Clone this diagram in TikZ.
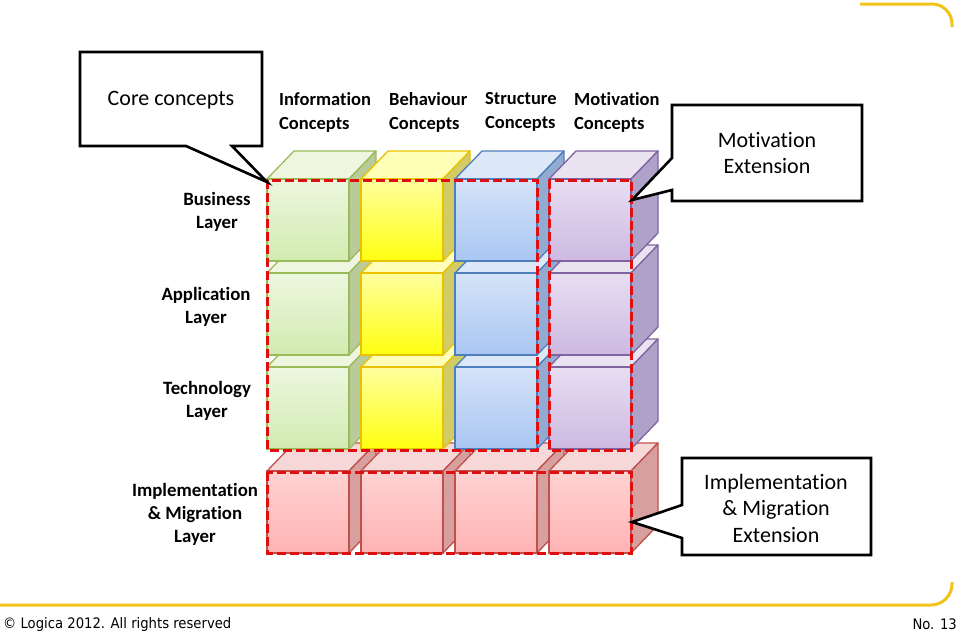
\documentclass[tikz,border=0pt]{standalone}
\usepackage{fontspec}
\setmainfont{Carlito}[Ligatures={NoCommon,NoContextual,NoRequired}]
\newfontfamily\footfont{DejaVu Sans}
\definecolor{gtop}{HTML}{EEF6E0}\definecolor{gside}{HTML}{B9CB98}\definecolor{gft}{HTML}{ECF7DF}\definecolor{gfb}{HTML}{D2EBB0}\definecolor{gedge}{HTML}{9BBB59}
\definecolor{ytop}{HTML}{FFFFB8}\definecolor{yside}{HTML}{D2CC66}\definecolor{yft}{HTML}{FFFFA0}\definecolor{yfb}{HTML}{FFFF10}\definecolor{yedge}{HTML}{E8C200}
\definecolor{btop}{HTML}{DCE7F7}\definecolor{bside}{HTML}{93ABD3}\definecolor{bft}{HTML}{D5E3F8}\definecolor{bfb}{HTML}{A9C6F3}\definecolor{bedge}{HTML}{4F7FBA}
\definecolor{vtop}{HTML}{E9E2F1}\definecolor{vside}{HTML}{AFA2C8}\definecolor{vft}{HTML}{E8DEF2}\definecolor{vfb}{HTML}{CDB9E1}\definecolor{vedge}{HTML}{8064A2}
\definecolor{ptop}{HTML}{F7D8D8}\definecolor{pside}{HTML}{D7A09E}\definecolor{pft}{HTML}{FFD2D2}\definecolor{pfb}{HTML}{FFB3B3}\definecolor{pedge}{HTML}{C0504D}
\definecolor{dred}{HTML}{E00F0F}
\definecolor{yline}{HTML}{F2C41A}
\newcommand\drawcube[3]{%
  \path[fill=#3top,draw=#3edge,line width=1.3pt,line join=round] (#1,#2) -- ++(27,-28) -- ++(82,0) -- ++(-27,28) -- cycle;
  \path[fill=#3side,draw=#3edge,line width=1.3pt,line join=round] (#1+82,#2) -- ++(27,-28) -- ++(0,82) -- ++(-27,28) -- cycle;
  \shade[top color=#3ft,bottom color=#3fb,draw=#3edge,line width=1.3pt] (#1,#2) rectangle ++(82,82);
}
\begin{document}
\begin{tikzpicture}[x=1pt,y=-1pt,
  dashbox/.style={draw=dred,line width=3pt,dash pattern=on 9pt off 4pt},
  callout/.style={draw=black,fill=white,line width=2.6pt,line join=miter},
  hdr/.style={font=\bfseries\fontsize{18.5}{24}\selectfont,align=left,anchor=west,inner sep=0},
  rowlbl/.style={font=\bfseries\fontsize{18.8}{23}\selectfont,align=center,inner sep=0},
  ctext/.style={font=\fontsize{22}{26.5}\selectfont,align=center,inner sep=0},
  foot/.style={font=\footfont\fontsize{14.5}{16}\selectfont,inner sep=0}]
\useasboundingbox (0,0) rectangle (959,632);
\fill[white] (0,0) rectangle (959,632);
% decorative yellow lines
\draw[yline,line width=3pt,rounded corners=21pt] (0,605) -- (952,605) -- (952,582);
\draw[yline,line width=3pt,rounded corners=20pt] (860,4) -- (952,4) -- (952,27);
% cubes
\foreach \i in {0,...,3} {\drawcube{267+94*\i}{471}{p}}
\foreach \r in {367,273,179} {%
  \drawcube{267}{\r}{g}\drawcube{361}{\r}{y}\drawcube{455}{\r}{b}\drawcube{549}{\r}{v}}
% dashed frames
\draw[dashbox] (267,180) rectangle (537,450);
\draw[dashbox] (549,180) rectangle (631,450);
\draw[dashbox] (267,472) rectangle (631,553);
% callouts
\path[callout] (80,52) -- (262,52) -- (262,146) -- (232,146) -- (267,182) -- (186,146) -- (80,146) -- cycle;
\node[ctext] (core) at (171,100) {Core concepts};
\path[callout] (672,105) -- (862,105) -- (862,201) -- (672,201) -- (672,190) -- (632,200) -- (672,158) -- cycle;
\node[ctext] (motext) at (767,153) {Motivation\\Extension};
\path[callout] (682,458) -- (871,458) -- (871,555) -- (682,555) -- (682,538) -- (632,522) -- (682,505) -- cycle;
\node[ctext] (imext) at (776,508) {Implementation\\\& Migration\\Extension};
% column headers
\node[hdr] (hinfo) at (279,112) {Information\\Concepts};
\node[hdr] (hbeh) at (389,112) {Behaviour\\Concepts};
\node[hdr] (hstr) at (485,112) {Structure\\Concepts};
\node[hdr] (hmot) at (574,112) {Motivation\\Concepts};
% row labels
\node[rowlbl] (lbus) at (217,212) {Business\\Layer};
\node[rowlbl] (lapp) at (206,307) {Application\\Layer};
\node[rowlbl] (ltec) at (207,401) {Technology\\Layer};
\node[rowlbl] (limp) at (195,514) {Implementation\\\& Migration\\Layer};
% footer
\node[foot,anchor=west] (copy) at (3,624) {\scalebox{0.91}[1]{© Logica 2012. All rights reserved}};
\node[foot,anchor=east] (pageno) at (957,624) {\scalebox{0.91}[1]{No. 13}};
\end{tikzpicture}
\end{document}
